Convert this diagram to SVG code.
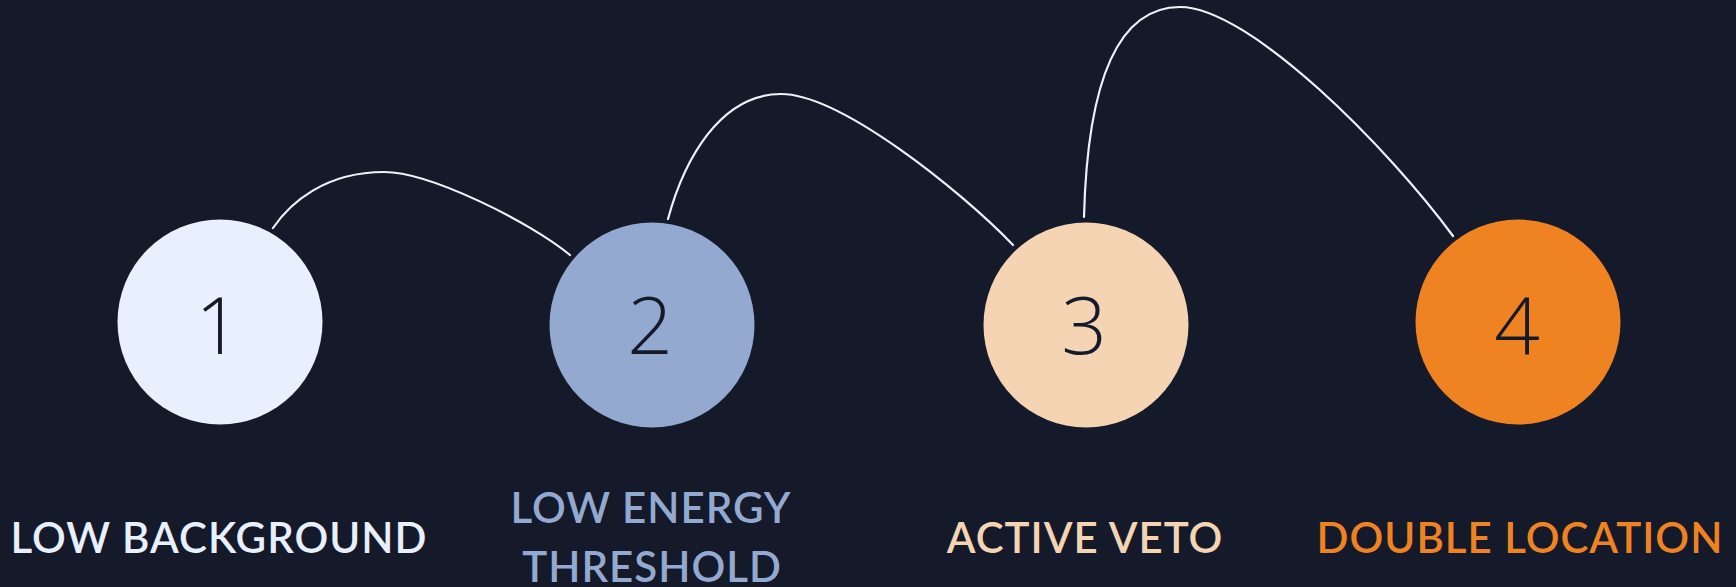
<svg xmlns="http://www.w3.org/2000/svg" width="1736" height="587" viewBox="0 0 1736 587">
  <style>
    .digit { font-family: "Open Sans", "DejaVu Sans", sans-serif; font-weight: 300; font-size: 80px; fill: #141a2a; text-anchor: middle; }
    .label { font-family: Lato, "Open Sans", sans-serif; font-weight: 600; font-size: 42px; letter-spacing: 1px; text-anchor: middle; }
    .link { fill: none; stroke: #eef2fb; stroke-width: 2.2; stroke-linecap: round; }
  </style>
  <rect width="1736" height="587" fill="#151a2a"/>

  <!-- arcs between consecutive steps -->
  <g id="connectors">
    <path class="link" d="M273,228 C290,203 325,172 384,172 C430,172 530,222 570,255"/>
    <path class="link" d="M668,219 C684,160 720,94 781,94 C840,94 960,190 1013,245"/>
    <path class="link" d="M1084,217 C1087,100 1110,7 1180,7 C1250,7 1390,150 1453,236"/>
  </g>

  <g id="step1">
    <circle cx="220" cy="322" r="102.5" fill="#e8effd"/>
    <text class="digit" x="218" y="354">1</text>
    <text class="label" x="219" y="553" fill="#e8effd">LOW BACKGROUND</text>
  </g>

  <g id="step2">
    <circle cx="652" cy="325" r="102.5" fill="#94a9d0"/>
    <text class="digit" x="650" y="354">2</text>
    <text class="label" fill="#94a9d0"><tspan x="651" y="523">LOW ENERGY</tspan><tspan x="652" y="582">THRESHOLD</tspan></text>
  </g>

  <g id="step3">
    <circle cx="1086" cy="325" r="102.5" fill="#f4d4b3"/>
    <text class="digit" x="1084" y="354">3</text>
    <text class="label" x="1085" y="553" fill="#f4d4b3">ACTIVE VETO</text>
  </g>

  <g id="step4">
    <circle cx="1518" cy="322" r="102.5" fill="#ef8321"/>
    <text class="digit" x="1517" y="354">4</text>
    <text class="label" x="1520" y="553" fill="#ef8321">DOUBLE LOCATION</text>
  </g>
</svg>
